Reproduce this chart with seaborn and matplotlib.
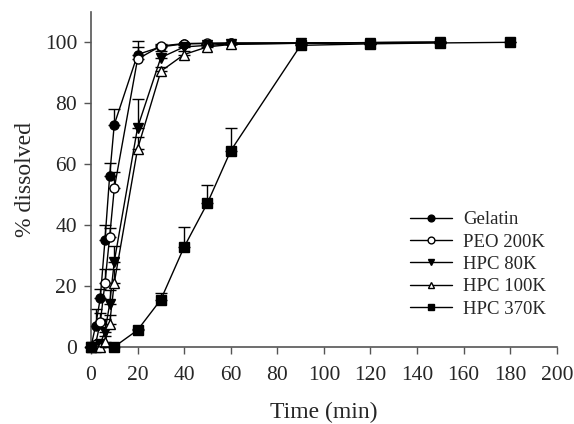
"""
Dissolution profiles: % dissolved vs time for several polymers.
"""

import numpy as np
import matplotlib
matplotlib.use("Agg")
import matplotlib.pyplot as plt
import seaborn as sns

# time points (min)
time = [0, 2, 4, 6, 8, 10, 20, 30, 40, 50, 60, 90, 120, 150]
time_370 = [0, 10, 20, 30, 40, 50, 60, 90, 120, 150, 180]

gelatin = [0, 7, 16, 35, 56, 73, 96, 98.5, 99.5, 99.6, 99.7, 99.8, 99.9, 100]
gelatin_err = [0, 5.5, 3, 5, 4.5, 5, 4.5, 0.5, 0, 0, 0, 0, 0, 0]

peo_200k = [0, 1, 8, 21, 36, 52, 94.5, 98.8, 99.6, 99.7, 99.8, 99.8, 99.9, 100]
peo_200k_err = [0, 0, 3, 4.5, 3, 5.5, 4, 0.5, 0, 0, 0, 0, 0, 0]

hpc_80k = [0, 0, 1, 5, 14, 28, 72, 95, 98.5, 99, 99.5, 99.7, 99.9, 100]
hpc_80k_err = [0, 0, 0, 4, 4.5, 5, 9.5, 2, 0.5, 0, 0, 0, 0, 0]

hpc_100k = [0, 0, 0, 1.5, 7.5, 21, 65, 90.5, 96, 98.5, 99.3, 99.7, 99.9, 100]
hpc_100k_err = [0, 0, 0, 2, 3, 4.5, 4, 1.5, 1, 0.5, 0, 0, 0, 0]

hpc_370k = [0, 0, 5.5, 15.5, 32.8, 47.2, 64.4, 99, 99.5, 99.8, 100]
hpc_370k_err = [0, 0, 0.5, 2.3, 6.5, 6, 7.4, 0, 0, 0, 0]

series = [
    ("Gelatin", time, gelatin, gelatin_err, "o", "black"),
    ("PEO 200K", time, peo_200k, peo_200k_err, "o", "white"),
    ("HPC 80K", time, hpc_80k, hpc_80k_err, "v", "black"),
    ("HPC 100K", time, hpc_100k, hpc_100k_err, "^", "white"),
    ("HPC 370K", time_370, hpc_370k, hpc_370k_err, "s", "black"),
]

sns.set_style("ticks")
plt.rcParams["font.family"] = ["Liberation Serif", "DejaVu Serif"]

fig = plt.figure(figsize=(5.74, 4.24), dpi=100)
ax = fig.add_axes([0.1585, 0.182, 0.8115, 0.79])

handles = []
for name, t, y, err, marker, face in series:
    lower = np.zeros(len(err))
    ax.errorbar(t, y, yerr=[lower, err], fmt="none", ecolor="black",
                elinewidth=1, capsize=4, capthick=1, clip_on=False, zorder=2)
    sns.lineplot(x=t, y=y, ax=ax, color="black", linewidth=1,
                 marker=marker, markersize=6.5, markerfacecolor=face,
                 markeredgecolor="black", markeredgewidth=1,
                 clip_on=False, zorder=3)
    handles.append(ax.lines[-1])

ax.set_xlim(0, 200)
ax.set_ylim(0, 110)
ax.set_xticks(range(0, 201, 20))
ax.set_yticks(range(0, 101, 20))
ax.tick_params(labelsize=15.5, length=5, width=1, color="#555555")
ax.tick_params(axis="x", pad=9)
ax.tick_params(axis="y", pad=5)
for side in ["left", "bottom"]:
    ax.spines[side].set_color("#555555")
    ax.spines[side].set_linewidth(1.2)
sns.despine(ax=ax)

ax.set_xlabel("Time (min)", fontsize=17, labelpad=12)
ax.set_ylabel("% dissolved", fontsize=17, labelpad=6)

ax.legend(handles, [s[0] for s in series], loc="upper left",
          bbox_to_anchor=(0.685, 0.405), frameon=False, fontsize=13.5,
          handlelength=2.25, handletextpad=0.6, labelspacing=0.28,
          borderpad=0, borderaxespad=0, markerscale=0.75)

plt.savefig("out.png", dpi=100)
plt.close()
